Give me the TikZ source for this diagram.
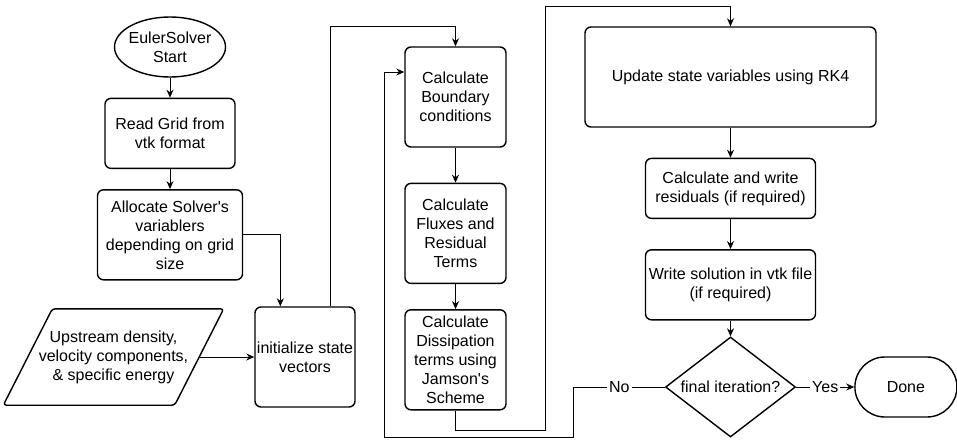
\documentclass[tikz,border=0pt]{standalone}
\usepackage{fontspec}
\setmainfont{Liberation Sans}
\usetikzlibrary{positioning,shapes.geometric,arrows.meta}

\begin{document}
\begin{tikzpicture}[node distance=20pt,
    every node/.style={font=\fontsize{16pt}{19pt}\selectfont},
    box/.style={draw,line width=1.4pt,rounded corners=6pt,align=center,inner sep=0pt},
    lbl/.style={fill=white,inner sep=2pt},
    >={Stealth[length=8pt,width=7pt]}]
     \useasboundingbox (0,0) rectangle (957pt,-447pt);

     % left column
     \node[box,ellipse,rounded corners=0pt,minimum width=111pt,minimum height=60pt,inner sep=-3pt] (start) at (170pt,-47pt) {EulerSolver\\Start};
     \node[box,minimum width=130pt,minimum height=70pt,below=of start] (read) {Read Grid from\\vtk format};
     \node[box,minimum width=145pt,minimum height=90pt,below=of read] (alloc) {Allocate Solver\textquotesingle s\\variablers\\depending on grid\\size};
     \node[align=center,inner sep=0pt,minimum width=171pt,minimum height=96pt] (input) at (113.5pt,-357pt) {Upstream density,\\velocity components,\\\& specific energy};
     \draw[line width=1.4pt,rounded corners=3pt] ([xshift=-24.5pt]input.south west) -- ([xshift=24.5pt]input.north west)
        -- ([xshift=24.5pt]input.north east) -- ([xshift=-24.5pt]input.south east) -- cycle;
     \node[box,minimum width=100pt,minimum height=100pt] (init) at (305pt,-357pt) {initialize state\\vectors};

     % inner loop
     \node[box,minimum width=101pt,minimum height=100pt] (bound) at (455.5pt,-97pt) {Calculate\\Boundary\\conditions};
     \node[box,minimum width=101pt,minimum height=100pt,below=35pt of bound] (flux) {Calculate\\Fluxes and\\Residual\\Terms};
     \node[box,minimum width=101pt,minimum height=100pt,below=25pt of flux] (diss) {Calculate\\Dissipation\\terms using\\Jamson\textquotesingle s\\Scheme};

     % right column
     \node[box,minimum width=291pt,minimum height=100pt] (update) at (730.5pt,-77pt) {Update state variables using RK4};
     \node[box,minimum width=170pt,minimum height=60pt,below=30pt of update] (resid) {Calculate and write\\residuals (if required)};
     \node[box,minimum width=170pt,minimum height=70pt,below=30pt of resid] (write) {Write solution in vtk file\\(if required)};
     \node[box,diamond,rounded corners=0pt,aspect=1.3,minimum width=130pt,minimum height=100pt] (check) at (730.5pt,-387pt) {final iteration?};
     \node[box,rounded corners=30pt,minimum width=102pt,minimum height=60pt,right=58pt of check] (done) {Done};

     \path[->,line width=1pt]
     (start) edge (read)
     (read) edge (alloc)
     (input) edge (init)
     (bound) edge (flux)
     (flux) edge (diss)
     (update) edge (resid)
     (resid) edge (write)
     (write) edge (check)
     (check) edge node[lbl] {Yes} (done);

     \draw[->,line width=1pt] (alloc.east) -| ([xshift=26pt]init.north west);
     \draw[->,line width=1pt] ([xshift=25pt]init.north) |- ([yshift=20pt]bound.north) -- (bound.north);
     \draw[->,line width=1pt] (diss.south) |- ++(89.5pt,-20pt) |- ([yshift=20pt]update.north) -- (update.north);
     \draw[->,line width=1pt] (check.west) -- node[lbl] {No} ++(-91pt,0) |- ++(-189pt,-50pt) |- ([yshift=25pt]bound.west);
\end{tikzpicture}
\end{document}
